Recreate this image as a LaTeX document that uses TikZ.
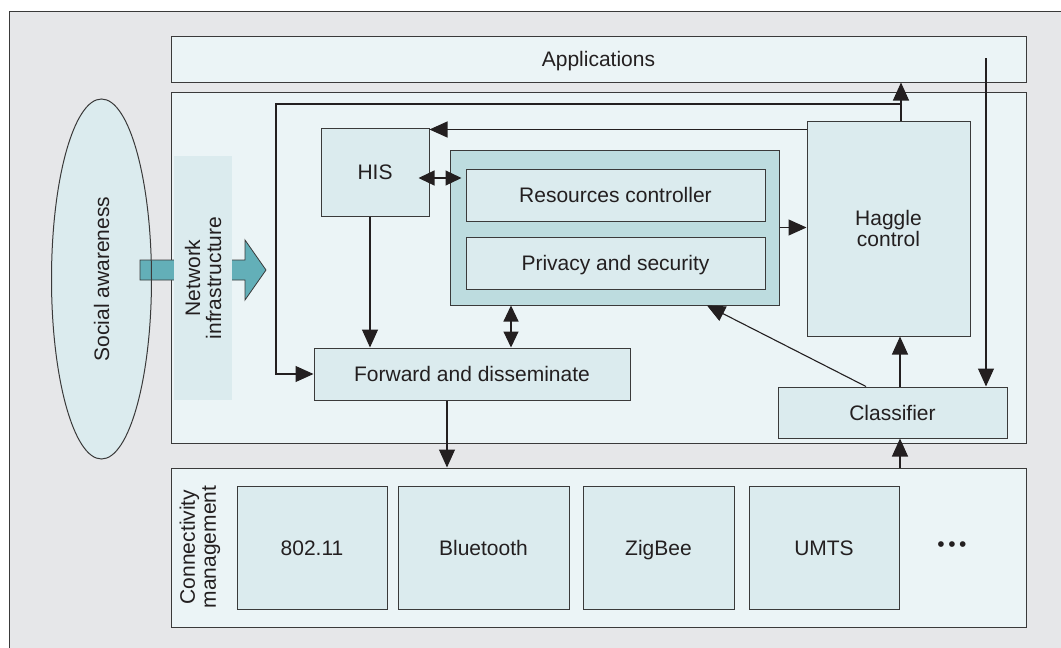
\documentclass[tikz,border=0pt]{standalone}
\usepackage{fontspec}
\setmainfont{Liberation Sans}
\usetikzlibrary{arrows.meta,shapes.geometric,calc}
\definecolor{bggray}{HTML}{E6E7E9}
\definecolor{lightbox}{HTML}{EBF4F6}
\definecolor{midbox}{HTML}{DBEBEE}
\definecolor{contbox}{HTML}{BDDCDF}
\definecolor{tealarrow}{HTML}{63AFB8}
\definecolor{edgegray}{HTML}{3A3A3A}
\definecolor{txt}{HTML}{231F20}
\begin{document}
\begin{tikzpicture}[x=1pt,y=-1pt,
  font=\fontsize{21}{21}\selectfont,
  every node/.style={text=txt},
  oneline/.style={text height=15pt,text depth=0pt},
  layer/.style={draw=edgegray,line width=1pt,fill=lightbox,inner sep=0pt,rectangle},
  inbox/.style={draw=edgegray,line width=1pt,fill=midbox,inner sep=0pt,rectangle,align=center},
  arr/.style={draw=txt,line width=1.1pt,-{Triangle[length=18pt,width=16pt]}},
  dbl/.style={draw=txt,line width=1.1pt,{Triangle[length=16pt,width=15pt]}-{Triangle[length=16pt,width=15pt]}},
  plain/.style={draw=txt,line width=1pt}]
\useasboundingbox (0,0) rectangle (1061,648);
% background frame
\fill[bggray] (9,11) rectangle (1061,648);
\draw[edgegray,line width=1pt] (9,648) -- (9,11) -- (1061,11);
% layers
\node[layer,oneline,minimum width=855pt,minimum height=46pt] (apps) at (598.5,59) {Applications};
\node[layer,minimum width=855pt,minimum height=351pt] (main) at (598.5,267.5) {};
\node[layer,minimum width=855pt,minimum height=159pt] (conn) at (598.5,547.5) {};
% social awareness ellipse (fill)
\node[ellipse,fill=midbox,minimum width=100pt,minimum height=360pt,inner sep=0pt] (soc) at (101.5,279) {};
% thick arrow
\filldraw[fill=tealarrow,draw=edgegray,line width=0.8pt]
  (140,260) -- (245,260) -- (245,240) -- (266,270) -- (245,300) -- (245,280) -- (140,280) -- cycle;
% ellipse outline and text
\draw[edgegray,line width=1pt] (soc.center) ellipse [x radius=50pt,y radius=180pt];
\node[rotate=90] at (soc.center) {Social awareness};
% network infrastructure
\node[fill=midbox,minimum width=58pt,minimum height=244pt,inner sep=0pt] (net) at (203,278) {};
\node[rotate=90,align=center,font=\fontsize{21}{21}\selectfont] at (net.center) {Network\\infrastructure};
% inner nodes
\node[inbox,oneline,minimum width=108pt,minimum height=88pt] (his) at (375,172) {HIS};
\node[draw=edgegray,line width=1pt,fill=contbox,minimum width=329pt,minimum height=155pt,inner sep=0pt] (cont) at (614.5,227.5) {};
\node[inbox,oneline,minimum width=299pt,minimum height=52pt] (res) at (615.5,195) {Resources controller};
\node[inbox,oneline,minimum width=299pt,minimum height=52pt] (priv) at (615.5,263) {Privacy and security};
\node[inbox,minimum width=163pt,minimum height=215pt,font=\fontsize{21}{20.5}\selectfont] (hag) at (888.5,228.5) {Haggle\\control};
\node[inbox,oneline,minimum width=316pt,minimum height=52pt] (fwd) at (472,374) {Forward and disseminate};
\node[inbox,oneline,minimum width=229pt,minimum height=51pt] (cls) at (892.5,412.5) {Classifier};
% connectivity management
\node[rotate=90,align=center,font=\fontsize{21}{21}\selectfont] (cmlab) at (200,547) {Connectivity\\management};
\node[inbox,oneline,minimum width=150pt,minimum height=123pt] (w1) at (312,547.5) {802.11};
\node[inbox,oneline,minimum width=171pt,minimum height=123pt] (w2) at (483.5,547.5) {Bluetooth};
\node[inbox,oneline,minimum width=151pt,minimum height=123pt] (w3) at (658.5,547.5) {ZigBee};
\node[inbox,oneline,minimum width=150pt,minimum height=123pt] (w4) at (824,547.5) {UMTS};
\node (dots) at (952,547) {\textbullet\,\textbullet\,\textbullet};
% connectors
\coordinate (lt) at (901,104);
\coordinate (ll) at (276,104);
\coordinate (appsrc) at (986,58);
\draw[arr] ([xshift=12.5pt]hag.north) -- ([xshift=12.5pt]hag.north |- apps.south);
\draw[arr] (lt) -- (ll) |- (fwd.west);
\draw[arr] ([yshift=-9pt]hag.north west) -- ([yshift=-9pt]hag.north west -| his.east);
\draw[dbl,shorten <=-11pt,shorten >=4pt] ([yshift=-6pt]his.east) -- ([yshift=-6pt]his.east -| res.west);
\draw[arr] (cont.east) -- (cont.east -| hag.west);
\draw[arr] ([xshift=-5pt]his.south) -- ([xshift=-5pt]his.south |- fwd.north);
\draw[dbl] ([xshift=-103.5pt]cont.south) -- ([xshift=-103.5pt]cont.south |- fwd.north);
\draw[arr] ([xshift=-25pt]fwd.south) -- ([xshift=-25pt]fwd.south |- conn.north);
\draw[arr] ([xshift=7.5pt]cls.north) -- ([xshift=7.5pt]cls.north |- hag.south);
\draw[arr] ([xshift=7.5pt]cls.south |- conn.north) -- ([xshift=7.5pt]cls.south);
\draw[arr] (appsrc) -- (appsrc |- cls.north);
\draw[arr] ([xshift=-26.5pt]cls.north) -- ([xshift=92.5pt]cont.south);
\end{tikzpicture}
\end{document}
